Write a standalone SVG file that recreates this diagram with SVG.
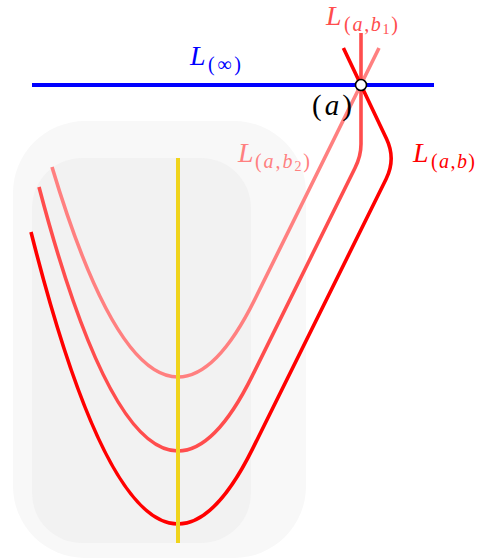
<svg xmlns="http://www.w3.org/2000/svg" width="486" height="560" viewBox="0 0 486 560">
<style>
.curve{fill:none;stroke-width:3.6;stroke-linejoin:round}
.lbl{font-family:"Liberation Serif","DejaVu Serif",serif}
.it{font-style:italic}
.main{font-size:28px}
.sub{font-size:20px}
.ss{font-size:14px}
</style>
<rect width="486" height="560" fill="#ffffff"/>
<g id="background">
<rect x="13" y="121" width="293" height="437" rx="72" fill="#f8f8f8"/>
<rect x="32" y="158" width="219" height="385" rx="50" fill="#f2f2f2"/>
</g>
<g id="connectors">
<line id="L-inf" x1="32" y1="85" x2="434" y2="85" stroke="#0000ff" stroke-width="4"/>
<path id="L-ab2" class="curve" stroke="#ff8080" d="M 52 167 Q 115 377 178 377 Q 216.5 377 255 299 L 379 48"/>
<path id="L-ab1" class="curve" stroke="#ff4d4d" d="M 39 187 Q 108.5 451 178 451 Q 215 451 252 376.4 L 355 168 Q 361 156 361 144 L 361 33"/>
<path id="L-ab" class="curve" stroke="#ff0000" d="M 31 232 Q 104.5 524 178 524 Q 215.4 524 252.8 448.4 L 386.1 179 Q 396 159 386.6 139 L 343.4 48"/>
<line id="axis" x1="178" y1="158" x2="178" y2="543" stroke="#f0d41c" stroke-width="4"/>
</g>
<g id="node-a">
<circle cx="361" cy="85" r="5.5" fill="#ffffff" stroke="#000000" stroke-width="1.6"/>
<text class="lbl" x="312" y="115" font-size="29" textLength="40" lengthAdjust="spacing" fill="#000000">(<tspan class="it">a</tspan>)</text>
</g>
<g id="label-inf" fill="#0000ff">
<text class="lbl main it" x="190" y="65">L</text>
<text class="lbl sub" x="208" y="71" textLength="33" lengthAdjust="spacing">(∞)</text>
</g>
<g id="label-ab1" fill="#ff4d4d">
<text class="lbl main it" x="326" y="25">L</text>
<text class="lbl sub" x="344" y="31" textLength="54" lengthAdjust="spacing">(<tspan class="it">a</tspan>,<tspan class="it">b</tspan><tspan class="ss" dy="3">1</tspan><tspan dy="-3">)</tspan></text>
</g>
<g id="label-ab2" fill="#ff8080">
<text class="lbl main it" x="238" y="162">L</text>
<text class="lbl sub" x="255" y="168" textLength="55" lengthAdjust="spacing">(<tspan class="it">a</tspan>,<tspan class="it">b</tspan><tspan class="ss" dy="3">2</tspan><tspan dy="-3">)</tspan></text>
</g>
<g id="label-ab" fill="#ff0000">
<text class="lbl main it" x="413" y="162">L</text>
<text class="lbl sub" x="431" y="168" textLength="44" lengthAdjust="spacing">(<tspan class="it">a</tspan>,<tspan class="it">b</tspan>)</text>
</g>
</svg>
